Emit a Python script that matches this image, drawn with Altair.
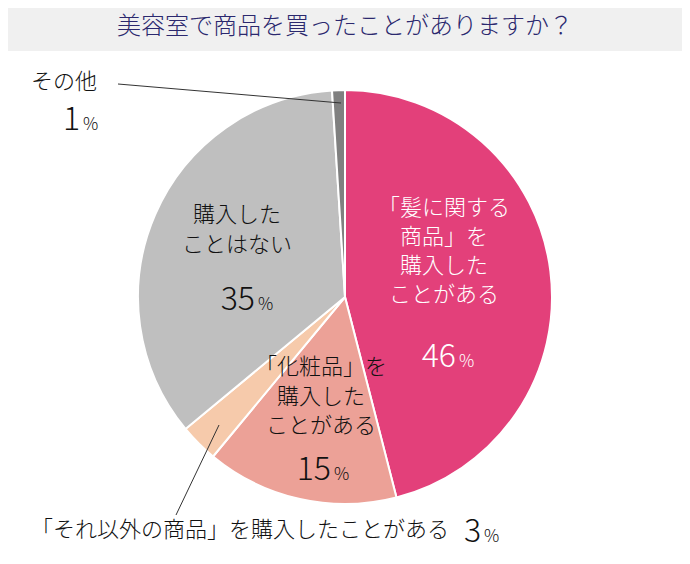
import altair as alt
import pandas as pd

# ---- data ----
categories = [
    "「髪に関する商品」を購入したことがある",
    "「化粧品」を購入したことがある",
    "「それ以外の商品」を購入したことがある",
    "購入したことはない",
    "その他",
]
values = [46, 15, 3, 35, 1]
slice_colors = ["#E3407A", "#ECA197", "#F6CAAB", "#BFBFBF", "#808080"]
title_text = "美容室で商品を買ったことがありますか？"

# display text of each label, split into lines
label_lines = [
    ["「髪に関する", "商品」を", "購入した", "ことがある"],
    ["「化粧品」を", "購入した", "ことがある"],
    ["「それ以外の商品」を購入したことがある"],
    ["購入した", "ことはない"],
    ["その他"],
]

# ---- layout (page pixels of the reference; OFF = page margin) ----
OFF = 8
W, H = 690 - 2 * OFF, 564 - 2 * OFF
CX, CY, R = 345, 297, 207
FONT = "Noto Sans CJK JP"
DARK = "#111111"
LABEL_WEIGHT = 300
NUM_WEIGHT = 300

# per category: (line x, first line y, line step, align, colour)
label_pos = [
    (444, 208, 29, "center", "white"),
    (321, 367, 29.5, "center", DARK),
    (31, 530, 29, "left", DARK),
    (237, 215, 30, "center", DARK),
    (31, 82, 29, "left", DARK),
]
# per category: (x where the number ends, baseline y)
number_pos = [(456, 367), (331, 480), (481, 542), (255, 310), (80, 130)]

df = pd.DataFrame({"cat": categories, "value": values, "idx": list(range(len(values)))})

pie = alt.Chart(df).mark_arc(radius=R, stroke="white", strokeWidth=2).encode(
    theta=alt.Theta("value:Q", stack=True),
    order=alt.Order("idx:Q", sort="ascending"),
    color=alt.Color("cat:N", scale=alt.Scale(domain=categories, range=slice_colors), legend=None),
    x=alt.value(CX - OFF),
    y=alt.value(CY - OFF),
)


def text_layer(d, size, align, baseline="middle", weight=LABEL_WEIGHT, line_height=None):
    kw = dict(font=FONT, fontSize=size, align=align, baseline=baseline, fontWeight=weight)
    if line_height is not None:
        kw.update(lineBreak="\n", lineHeight=line_height)
    return alt.Chart(d).mark_text(**kw).encode(
        x=alt.X("px:Q", scale=None, axis=None),
        y=alt.Y("py:Q", scale=None, axis=None),
        text="text:N",
        color=alt.Color("col:N", scale=None),
    )


# one multi-line text per label (y is the first line's middle)
label_layers = []
for i, lines in enumerate(label_lines):
    x, y0, step, align, col = label_pos[i]
    d = pd.DataFrame([{"text": "\n".join(lines), "px": x - OFF, "py": y0 - OFF, "col": col}])
    label_layers.append(text_layer(d, 22, align, "middle", LABEL_WEIGHT, step))

num_rows, pct_rows = [], []
for i, v in enumerate(values):
    x, y = number_pos[i]
    col = label_pos[i][4]
    num_rows.append({"text": str(v), "px": x - OFF, "py": y - OFF, "col": col})
    pct_rows.append({"text": "%", "px": x + 3 - OFF, "py": y - OFF, "col": col})
nums = text_layer(pd.DataFrame(num_rows), 32, "right", "alphabetic", NUM_WEIGHT)
pcts = text_layer(pd.DataFrame(pct_rows), 17, "left", "alphabetic", NUM_WEIGHT)

# title bar
bar = alt.Chart(pd.DataFrame({"t": [title_text]})).mark_rect(color="#F0F0F0").encode(
    x=alt.value(0), x2=alt.value(W), y=alt.value(0), y2=alt.value(51 - OFF)
)
title = alt.Chart(pd.DataFrame({"t": [title_text]})).mark_text(
    font=FONT, fontSize=24, color="#2B286E", align="center", baseline="middle", fontWeight=NUM_WEIGHT
).encode(x=alt.value(345 - OFF), y=alt.value(26.5 - OFF), text="t:N")

# leader lines
lead1 = alt.Chart(pd.DataFrame({"a": [0]})).mark_rule(color="#333333", strokeWidth=1).encode(
    x=alt.value(118 - OFF), y=alt.value(84 - OFF), x2=alt.value(341 - OFF), y2=alt.value(103 - OFF)
)
lead2 = alt.Chart(pd.DataFrame({"a": [0]})).mark_rule(color="#333333", strokeWidth=1).encode(
    x=alt.value(176 - OFF), y=alt.value(515 - OFF), x2=alt.value(219 - OFF), y2=alt.value(425 - OFF)
)

chart = alt.layer(bar, title, pie, lead1, lead2, *label_layers, nums, pcts).properties(
    width=W, height=H, padding=0, autosize="none"
).configure_view(stroke=None)

chart.save("out.html", embed_options={"renderer": "svg", "actions": False})
